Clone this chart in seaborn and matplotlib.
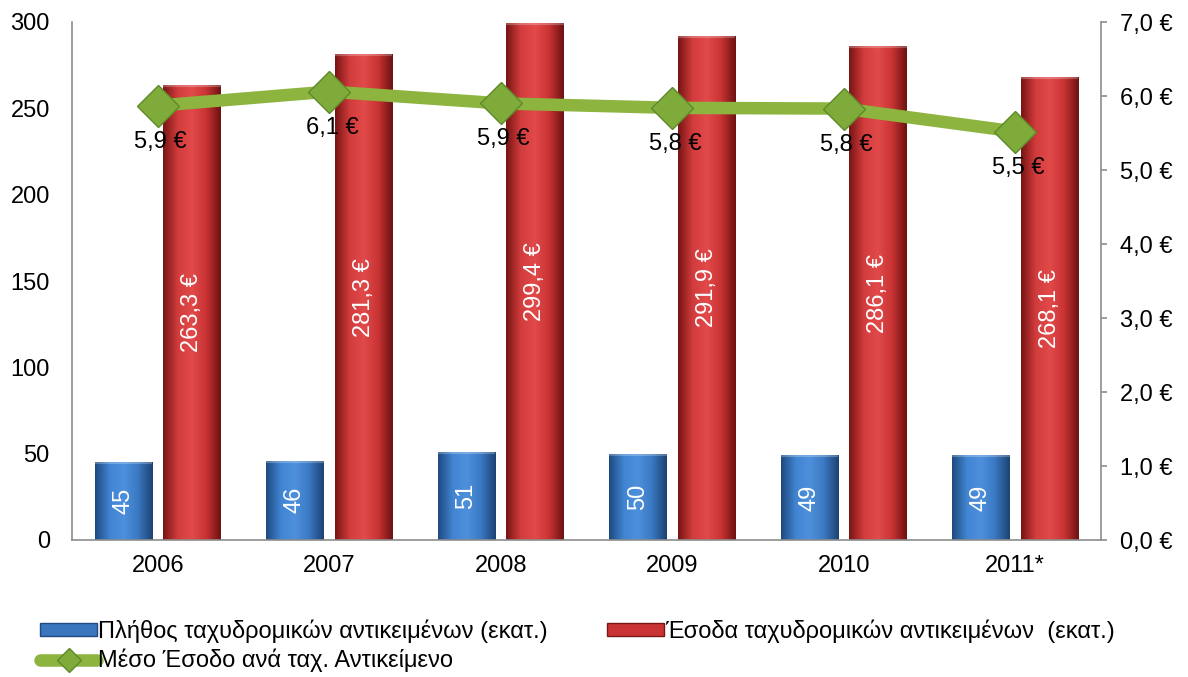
import numpy as np
import pandas as pd
import matplotlib
matplotlib.use("Agg")
import matplotlib.pyplot as plt
import seaborn as sns
from matplotlib.patches import Patch
from matplotlib.lines import Line2D
from matplotlib.colors import LinearSegmentedColormap

# Données
years = ["2006", "2007", "2008", "2009", "2010", "2011*"]
items = [45, 46, 51, 50, 49, 49]            # Πλήθος (εκατ.)
revenue = [263.3, 281.3, 299.4, 291.9, 286.1, 268.1]  # Έσοδα (εκατ. €)
avg_rev = [5.87, 6.06, 5.90, 5.84, 5.83, 5.52]  # Μέσο έσοδο (€)

lbl_items = "Πλήθος ταχυδρομικών αντικειμένων (εκατ.)"
lbl_rev = "Έσοδα ταχυδρομικών αντικειμένων  (εκατ.)"
lbl_avg = "Μέσο Έσοδο ανά ταχ. Αντικείμενο"

df = pd.DataFrame({
    "year": years * 2,
    "value": items + revenue,
    "series": [lbl_items] * len(years) + [lbl_rev] * len(years),
})
df_line = pd.DataFrame({"pos": np.arange(len(years)), "avg": avg_rev})

sns.set_theme(style="white", rc={"text.color": "black"})
plt.rcParams["font.family"] = ["Liberation Sans", "DejaVu Sans"]

BLUE, RED, GREEN = "#3a76bd", "#c93333", "#8cb43f"
GRAY = "#8c8c8c"
FS = 17

fig = plt.figure(figsize=(11.88, 6.77), dpi=100, facecolor="white")
ax = fig.add_axes([72 / 1188, 1 - 540 / 677, (1101 - 72) / 1188, (540 - 22) / 677])

sns.barplot(data=df, x="year", y="value", hue="series", ax=ax,
            palette=[BLUE, RED], width=0.8, gap=0.16, legend=False,
            edgecolor="none", saturation=1)

# petit effet de dégradé sur les barres
cm_blue = LinearSegmentedColormap.from_list("b", ["#1e4a80", "#4184d2", "#4e90dc", "#3a78c2", "#1c4374"])
cm_red = LinearSegmentedColormap.from_list("r", ["#7a1515", "#d23c3c", "#e24a4a", "#c93333", "#6e1212"])
grad = np.linspace(0, 1, 64).reshape(1, -1)
for p in ax.patches:
    x, y = p.get_x(), p.get_y()
    w, h = p.get_width(), p.get_height()
    cmap = cm_blue if p.get_facecolor()[2] > 0.5 else cm_red
    im = ax.imshow(grad, cmap=cmap, extent=[x, x + w, y, y + h], aspect="auto",
                   origin="lower", zorder=p.get_zorder() + 0.1)
    im.set_clip_path(p)
    ax.plot([x, x + w], [y + h, y + h], color="white", alpha=0.25, lw=3,
            zorder=p.get_zorder() + 0.2, solid_capstyle="butt")

ax.set_xlim(-0.5, len(years) - 0.5)
ax.set_ylim(0, 300)
ax.set_yticks(range(0, 301, 50))

ax.bar_label(ax.containers[0], labels=[str(v) for v in items], label_type="center",
             rotation=90, color="white", fontsize=FS)
ax.bar_label(ax.containers[1], labels=[f"{v:.1f} €".replace(".", ",") for v in revenue],
             label_type="center", rotation=90, color="white", fontsize=FS)
for t in ax.texts:
    t.set_zorder(6)

ax.set_xlabel("")
ax.set_ylabel("")
for s in ["top", "right"]:
    ax.spines[s].set_visible(False)
ax.spines["left"].set_color(GRAY)
ax.spines["bottom"].set_color(GRAY)
ax.spines["left"].set_linewidth(1.2)
ax.spines["bottom"].set_linewidth(1.2)
ax.tick_params(axis="y", length=0, pad=16, labelsize=FS, colors="black")
ax.tick_params(axis="x", length=0, pad=11, labelsize=FS, colors="black")

# axe secondaire
ax2 = ax.twinx()
sns.lineplot(data=df_line, x="pos", y="avg", ax=ax2, color=GREEN, linewidth=9,
             marker="D", markersize=21, markerfacecolor="#7fab3a",
             markeredgecolor="#5f8a2a", markeredgewidth=1, zorder=4)
ax2.set_ylim(0, 7)
ax2.set_yticks(np.arange(0, 7.01, 1))
ax2.set_yticklabels([f"{v:.1f} €".replace(".", ",") for v in np.arange(0, 7.01, 1)])
ax2.set_xlim(-0.5, len(years) - 0.5)
ax2.set_xlabel("")
ax2.set_ylabel("")
for s in ["top", "left", "bottom"]:
    ax2.spines[s].set_visible(False)
ax2.spines["right"].set_color(GRAY)
ax2.spines["right"].set_linewidth(1.2)
ax2.tick_params(axis="y", length=4, width=1.2, pad=10, labelsize=FS)
ax2.tick_params(axis="y", labelcolor="black", color=GRAY)

for i, v in enumerate(avg_rev):
    ax2.annotate(f"{v:.1f} €".replace(".", ","), (i, v), xytext=(3, -36),
                 textcoords="offset pixels", ha="center", va="center",
                 fontsize=FS, color="black", zorder=7)

handles = [
    Patch(facecolor=BLUE, edgecolor="#1e4a80"),
    Line2D([0], [0], color=GREEN, lw=9, marker="D", markersize=12,
           markerfacecolor="#7fab3a", markeredgecolor="#5f8a2a"),
    Patch(facecolor=RED, edgecolor="#7a1515"),
]
fig.legend(handles, [lbl_items, lbl_avg, lbl_rev], ncol=2, frameon=False,
           loc="upper left", bbox_to_anchor=(31 / 1188, 1 - 610 / 677),
           fontsize=FS, handlelength=2.4, handleheight=0.5, handletextpad=0.05,
           columnspacing=2.5, labelspacing=0.25, borderaxespad=0, labelcolor="black")

fig.savefig("out.png", dpi=100, facecolor="white")
